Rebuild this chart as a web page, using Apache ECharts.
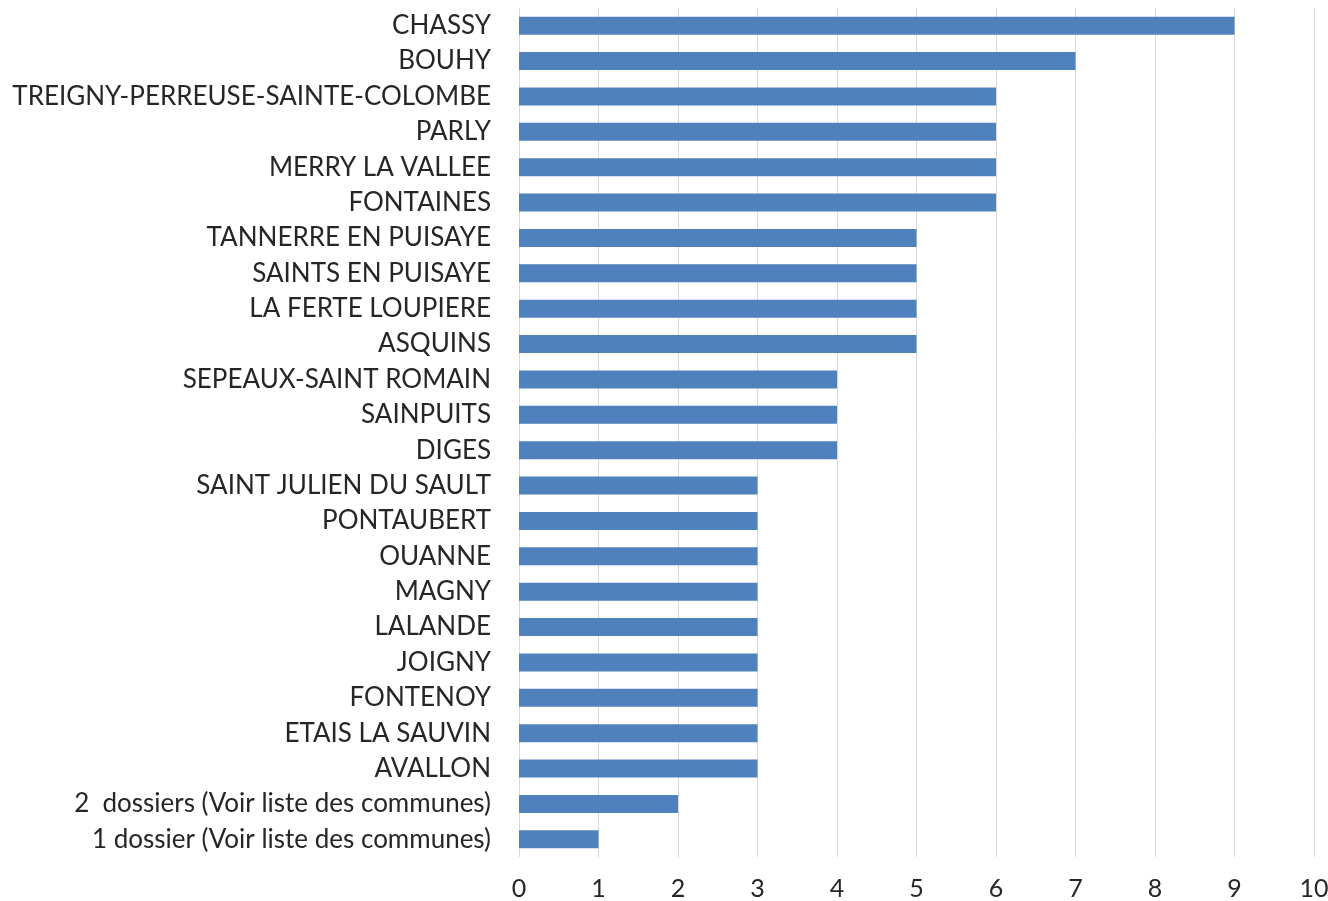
<!DOCTYPE html>
<html><head><meta charset="utf-8">
<script src="https://cdn.jsdelivr.net/npm/echarts@6/dist/echarts.min.js"></script>
<style>html,body{margin:0;padding:0;background:#fff}#c{width:1328px;height:901px}</style>
</head><body><div id="c"></div>
<script>
const categories = [
  "CHASSY","BOUHY","TREIGNY-PERREUSE-SAINTE-COLOMBE","PARLY","MERRY LA VALLEE","FONTAINES",
  "TANNERRE EN PUISAYE","SAINTS EN PUISAYE","LA FERTE LOUPIERE","ASQUINS",
  "SEPEAUX-SAINT ROMAIN","SAINPUITS","DIGES","SAINT JULIEN DU SAULT","PONTAUBERT",
  "OUANNE","MAGNY","LALANDE","JOIGNY","FONTENOY","ETAIS LA SAUVIN","AVALLON",
  "2  dossiers (Voir liste des communes)","1 dossier (Voir liste des communes)"
];
const values = [9,7,6,6,6,6,5,5,5,5,4,4,4,3,3,3,3,3,3,3,3,3,2,1];
const xTicks = [0,1,2,3,4,5,6,7,8,9,10];

const chart = echarts.init(document.getElementById('c'), null, {renderer:'canvas'});
const font = 'Lato';
chart.setOption({
  animation:false,
  grid:{left:519,right:14,top:8,bottom:44,containLabel:false,outerBoundsMode:'none'},
  xAxis:{type:'value',min:xTicks[0],max:xTicks[xTicks.length-1],interval:1,
    axisLine:{show:false},axisTick:{show:false},
    splitLine:{show:true,lineStyle:{color:'#d9d9d9',width:1}},
    axisLabel:{color:'#262626',fontSize:25,fontFamily:font,margin:19}},
  yAxis:{type:'category',data:categories,inverse:true,
    axisLine:{show:false},axisTick:{show:false},
    axisLabel:{color:'#262626',fontSize:26,fontFamily:font,margin:28}},
  series:[{type:'bar',data:values,barWidth:'51%',itemStyle:{color:'#4f81bd'}}]
});
</script></body></html>
